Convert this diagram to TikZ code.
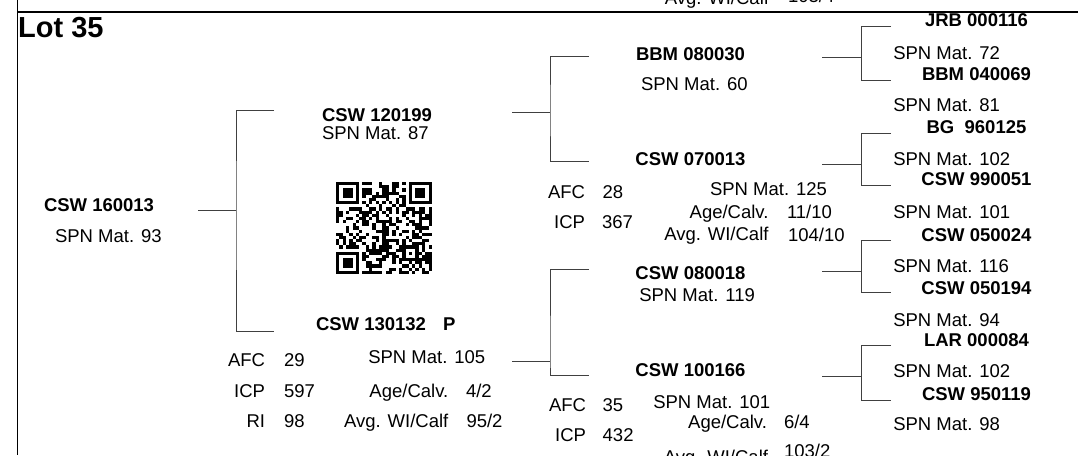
\documentclass[tikz,border=0pt]{standalone}
\usepackage{fontspec}
\setmainfont{Liberation Sans}
\newcommand\pedbr[7]{%
  \coordinate (#1s) at (#2,#5);
  \coordinate (#1j) at (#3,#5);
  \coordinate (#1t) at (#4,#6);
  \coordinate (#1b) at (#4,#7);
  \draw[conn] (#1s) -- (#1j);
  \draw[conn] (#1t) -| (#1j) |- (#1b);
}
\tikzset{
  lbl/.style={inner sep=0pt, outer sep=0pt, font=\fontsize{18.5}{22}\selectfont},
  nm/.style={inner sep=0pt, outer sep=0pt, font=\fontsize{18.5}{22}\selectfont\bfseries},
  lft/.style={anchor=base west},
  rgt/.style={anchor=base east},
  ctr/.style={anchor=base},
  conn/.style={line width=0.9pt, draw=black!75},
  framel/.style={line width=1.2pt, draw=black}
}
\begin{document}
\begin{tikzpicture}[x=1pt,y=-1pt]
\useasboundingbox (0,0) rectangle (1078,455);
\clip (0,0) rectangle (1078,455);
\fill[white] (0,0) rectangle (1078,455);

% frame
\coordinate (fa) at (17.3,0);
\coordinate (fb) at (17.3,455);
\coordinate (fc) at (17.3,12);
\coordinate (fd) at (1078,12);
\draw[framel] (fa) -- (fb);
\draw[framel] (fc) -- (fd);

% previous lot (clipped)
\node[lbl,rgt] (pavg) at (769,5) {Avg. WI/Calf};
\node[lbl,lft] (pavgv) at (788,2.7) {103/4};

% title
\node[inner sep=0pt, font=\fontsize{29}{32}\selectfont\bfseries, lft] (title) at (18,37.3) {Lot 35};

% generation 0
\node[nm,lft] (g0) at (44,211.7) {CSW 160013};
\node[lbl,lft] (g0s) at (55,242.7) {SPN Mat. 93};

% generation 1
\node[nm,lft] (g1a) at (322,121.7) {CSW 120199};
\node[lbl,lft] (g1as) at (322,139.5) {SPN Mat. 87};

\node[nm,lft] (g1b) at (316,330.7) {CSW 130132\hspace{17pt}P};
\node[lbl,rgt] (g1bafc) at (265,366) {AFC};
\node[lbl,lft] (g1bafcv) at (284,366) {29};
\node[lbl,rgt] (g1bicp) at (265,397.3) {ICP};
\node[lbl,lft] (g1bicpv) at (284,397.3) {597};
\node[lbl,rgt] (g1bri) at (265,427.3) {RI};
\node[lbl,lft] (g1briv) at (284,427.3) {98};
\node[lbl,lft] (g1bs) at (368.3,363.3) {SPN Mat. 105};
\node[lbl,rgt] (g1bage) at (448.3,397) {Age/Calv.};
\node[lbl,lft] (g1bagev) at (466,397) {4/2};
\node[lbl,rgt] (g1bavg) at (448.3,427) {Avg. WI/Calf};
\node[lbl,lft] (g1bavgv) at (466.5,427) {95/2};

% QR code
\begin{scope}[shift={(336,182)}, x=3.31pt, y=-3.17pt]
  \pgfmathsetseed{20240}
  \foreach \i in {0,...,28}{
    \foreach \j in {0,...,28}{
      \pgfmathtruncatemacro\qrbit{rnd<0.5}
      \ifnum\qrbit=1 \fill[black] (\i,\j) rectangle ++(1,1);\fi
    }
  }
  \foreach \a/\b in {0/0,21/0,0/21}{
    \fill[white] (\a,\b) rectangle ++(8,8);
  }
  \foreach \a/\b in {0/0,22/0,0/22}{
    \fill[black] (\a,\b) rectangle ++(7,7);
    \fill[white] (\a+1,\b+1) rectangle ++(5,5);
    \fill[black] (\a+2,\b+2) rectangle ++(3,3);
  }
  \foreach \k in {8,...,20}{
    \fill[white] (\k,6) rectangle ++(1,1);
    \fill[white] (6,\k) rectangle ++(1,1);
  }
  \foreach \k in {8,10,...,20}{
    \fill[black] (\k,6) rectangle ++(1,1);
    \fill[black] (6,\k) rectangle ++(1,1);
  }
  \fill[black] (20,20) rectangle ++(5,5);
  \fill[white] (21,21) rectangle ++(3,3);
  \fill[black] (22,22) rectangle ++(1,1);
\end{scope}

% generation 2
\node[nm,ctr] (g2a) at (690.5,60.7) {BBM 080030};
\node[lbl,lft] (g2as) at (641,90.7) {SPN Mat. 60};

\node[nm,ctr] (g2b) at (690.5,165) {CSW 070013};
\node[lbl,rgt] (g2bafc) at (585,198.3) {AFC};
\node[lbl,lft] (g2bafcv) at (602.7,198.3) {28};
\node[lbl,rgt] (g2bicp) at (585,228.3) {ICP};
\node[lbl,lft] (g2bicpv) at (602,228.3) {367};
\node[lbl,lft] (g2bs) at (710,195) {SPN Mat. 125};
\node[lbl,rgt] (g2bage) at (768.5,218) {Age/Calv.};
\node[lbl,lft] (g2bagev) at (787,218) {11/10};
\node[lbl,rgt] (g2bavg) at (768.5,240.5) {Avg. WI/Calf};
\node[lbl,lft] (g2bavgv) at (788,241.5) {104/10};

\node[nm,ctr] (g2c) at (690.5,279.3) {CSW 080018};
\node[lbl,lft] (g2cs) at (639.3,301.7) {SPN Mat. 119};

\node[nm,ctr] (g2d) at (690.5,376.7) {CSW 100166};
\node[lbl,rgt] (g2dafc) at (586,411.7) {AFC};
\node[lbl,lft] (g2dafcv) at (602.7,411.7) {35};
\node[lbl,rgt] (g2dicp) at (586,441.7) {ICP};
\node[lbl,lft] (g2dicpv) at (602.7,441.7) {432};
\node[lbl,lft] (g2ds) at (653.3,408.3) {SPN Mat. 101};
\node[lbl,rgt] (g2dage) at (767,428.3) {Age/Calv.};
\node[lbl,lft] (g2dagev) at (784,428.3) {6/4};
\node[lbl,rgt] (g2davg) at (768,463.4) {Avg. WI/Calf};
\node[lbl,lft] (g2davgv) at (784,457.4) {103/2};

% generation 3
\node[nm,ctr] (g3a) at (976.5,26.7) {JRB 000116};
\node[lbl,lft] (g3as) at (893.3,59.3) {SPN Mat. 72};
\node[nm,ctr] (g3b) at (976.5,80) {BBM 040069};
\node[lbl,lft] (g3bs) at (893.3,111.7) {SPN Mat. 81};
\node[nm,ctr] (g3c) at (976.5,133.3) {BG\ \ 960125};
\node[lbl,lft] (g3cs) at (893.3,165.7) {SPN Mat. 102};
\node[nm,ctr] (g3d) at (976.5,185.7) {CSW 990051};
\node[lbl,lft] (g3ds) at (893.3,218.3) {SPN Mat. 101};
\node[nm,ctr] (g3e) at (976.5,241.7) {CSW 050024};
\node[lbl,lft] (g3es) at (893.3,272.7) {SPN Mat. 116};
\node[nm,ctr] (g3f) at (976.5,294) {CSW 050194};
\node[lbl,lft] (g3fs) at (893.3,326) {SPN Mat. 94};
\node[nm,ctr] (g3g) at (976.5,346.7) {LAR 000084};
\node[lbl,lft] (g3gs) at (893.3,377.3) {SPN Mat. 102};
\node[nm,ctr] (g3h) at (976.5,400) {CSW 950119};
\node[lbl,lft] (g3hs) at (893.3,430.7) {SPN Mat. 98};

% connectors (brackets)
\pedbr{b0}{198}{236}{274}{210}{110}{331}
\pedbr{b1a}{512}{550}{589}{112}{56.3}{161.7}
\pedbr{b1b}{512}{550}{589}{361}{269}{375.7}
\pedbr{b2a}{822}{861}{891}{57.3}{26.7}{80.7}
\pedbr{b2b}{822}{861}{891}{164}{133.3}{185}
\pedbr{b2c}{822}{861}{891}{271}{240.7}{292.7}
\pedbr{b2d}{822}{861}{891}{376}{345.7}{400}
\end{tikzpicture}
\end{document}
